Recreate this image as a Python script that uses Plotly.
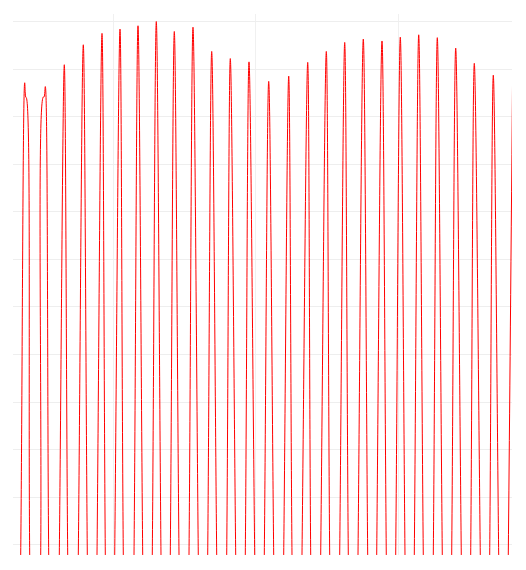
import plotly.graph_objects as go

# Times in hours, levels in grid units
peak_time = [36.51, 50.39, 63.19, 75.99, 88.59, 100.72, 112.84, 125.17, 137.30, 149.89,
             162.49, 175.02, 187.62, 200.89, 214.37, 227.17, 239.70, 252.09, 264.62, 277.22,
             289.55, 301.95, 314.48, 326.87, 339.40, 352.20, 365.20]
peak_level = [9.72, 9.64, 10.10, 10.52, 10.76, 10.85, 10.92, 11.01, 10.80, 10.89,
              10.38, 10.23, 10.16, 9.75, 9.86, 10.15, 10.38, 10.57, 10.64, 10.60,
              10.68, 10.73, 10.67, 10.45, 10.13, 9.88, 9.85]

shoulder_time = [37.20, 37.70, 49.00, 49.55]
shoulder_level = [9.42, 9.40, 9.42, 9.42]

rise_time = [33.82, 47.29, 59.82, 72.62, 85.22, 97.15, 110.15, 122.47, 134.60, 147.20,
             159.80, 172.60, 185.13, 197.93, 211.00, 223.32, 235.92, 248.72, 261.05, 273.64,
             286.45, 298.98, 311.78, 324.17, 336.97, 349.77, 362.30]
fall_time = [39.88, 52.68, 65.48, 78.69, 90.81, 102.94, 116.01, 128.33, 140.46, 153.46,
             165.86, 178.66, 191.46, 204.26, 216.58, 229.18, 241.98, 254.51, 267.58, 280.11,
             292.71, 305.04, 317.84, 330.64, 343.44, 355.83]
edge_level = -0.22

trough_time = [30.00, 43.60, 56.25, 69.05, 81.95, 93.98, 106.55, 119.24, 131.47, 143.83,
               156.63, 169.23, 181.90, 194.70, 207.63, 219.95, 232.55, 245.35, 257.78,
               270.61, 283.28, 295.85, 308.41, 321.01, 333.81, 346.61, 359.20]
trough_level = [-10.0, -9.9, -10.1, -10.2, -10.3, -10.3, -10.4, -10.4, -10.3, -10.2,
                -10.0, -9.9, -9.8, -9.8, -9.9, -10.0, -10.1, -10.2, -10.3, -10.3,
                -10.3, -10.2, -10.1, -10.0, -9.9, -9.8, -9.8]

pts = []
pts += list(zip(peak_time, peak_level))
pts += list(zip(shoulder_time, shoulder_level))
pts += [(t, edge_level) for t in rise_time]
pts += [(t, edge_level) for t in fall_time]
pts += list(zip(trough_time, trough_level))
pts.sort(key=lambda p: p[0])
xs = [p[0] for p in pts]
ys = [p[1] for p in pts]

fig = go.Figure()
fig.add_trace(go.Scatter(x=xs, y=ys, mode="lines",
                         line=dict(color="red", width=1, shape="spline"),
                         hoverinfo="skip"))

fig.update_layout(
    width=526, height=570,
    margin=dict(l=13, r=14, t=14, b=15),
    paper_bgcolor="white", plot_bgcolor="white",
    showlegend=False,
    xaxis=dict(range=[28.63, 364.8], tick0=0, dtick=96, showgrid=True,
               gridcolor="#f0f0f0", gridwidth=1, zeroline=False,
               showticklabels=False, ticks="", showline=False),
    yaxis=dict(range=[-0.221, 11.168], tick0=0, dtick=1, showgrid=True,
               gridcolor="#eeeeee", gridwidth=1, zeroline=False,
               showticklabels=False, ticks="", showline=False),
)

fig.write_html("out.html")
